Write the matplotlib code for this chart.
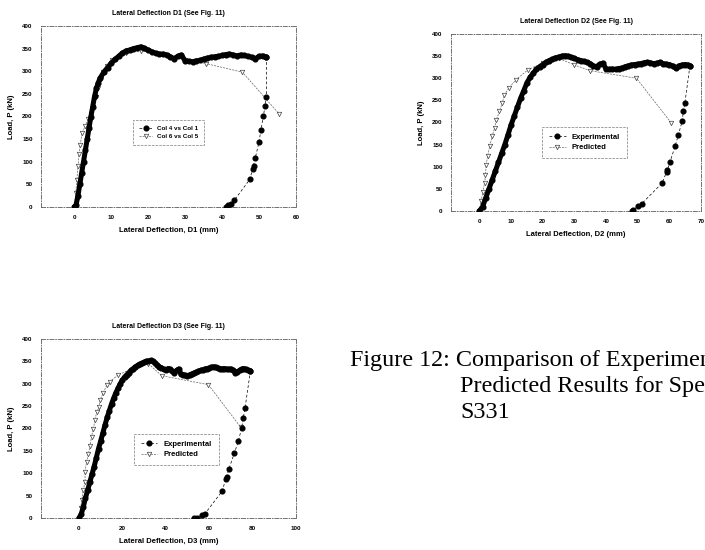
import matplotlib
matplotlib.use("Agg")
import matplotlib.pyplot as plt

plt.rcParams['font.family'] = ['Liberation Sans', 'DejaVu Sans']

# ---- panel D1 ----
d1_load_x = [0, 0.5, 1, 1.5, 2, 2.5, 3, 3.5, 4, 4.5, 5, 5.5, 6, 6.5, 7, 8, 9, 10, 11, 12,
             13, 14, 15, 16, 17, 18, 19, 20, 21, 22, 23, 24, 25, 26, 27, 28, 29,
             30, 31, 32, 33, 34, 35, 36, 37, 38, 39, 40, 41, 42, 43, 44, 45, 46, 47,
             48, 49, 50, 51, 52]
d1_load_y = [0, 5, 25, 50, 75, 100, 125, 150, 175, 200, 222, 245, 262, 275, 285, 298, 308, 318, 326, 333,
             340, 345, 347, 350, 352, 354, 351, 347, 343, 340, 338, 338, 336, 332, 328, 333, 336,
             323, 322, 321, 323, 324, 327, 329, 331, 332, 333, 335, 337, 338, 336, 334, 336, 335, 333,
             331, 328, 333, 334, 331]
d1_unload_x = [52, 52.0, 51.6, 51.2, 50.5, 50.0, 49.0, 48.5, 48.3, 47.5, 43.3, 42.4, 41.5, 41.0]
d1_unload_y = [331, 244, 223, 202, 170, 144, 109, 91, 85, 61, 15, 6, 4, 0]
d1_pred_x = [0, 0.4, 0.7, 1.0, 1.3, 1.6, 2.1, 3.0, 3.8, 4.5, 5.2, 5.8, 6.5, 7.2, 7.8, 8.8, 10.2,
             14, 18, 25, 30, 35.6, 45.5, 55.5]
d1_pred_y = [0, 30, 60, 90, 118, 137, 163, 180, 195, 205, 222, 242, 262, 282, 298, 312, 325,
             340, 345, 335, 325, 317, 298, 205]

# ---- panel D2 ----
d2_load_x = [0, 1, 2, 3, 4, 5, 6, 7, 8, 9, 10, 11, 12, 13, 14, 15, 16, 17, 18, 19, 20,
             21, 22, 23, 24, 25, 26, 27, 28, 29, 30, 31, 32, 33, 34, 35, 36, 37, 38, 39,
             40, 41, 42, 43, 44, 45, 46, 47, 48, 49, 50, 51, 52, 53, 54, 55, 56, 57, 58,
             59, 60, 61, 62, 63, 64, 65, 66, 66.5]
d2_load_y = [0, 10, 30, 50, 70, 90, 110, 130, 150, 172, 195, 215, 235, 255, 272, 290, 302, 312, 320, 326, 331,
             336, 340, 343, 346, 348, 350, 351, 350, 347, 345, 342, 340, 338, 336, 333, 328, 326, 332, 334,
             321, 320, 321, 320, 322, 323, 326, 328, 330, 331, 332, 333, 335, 336, 335, 333, 334, 336, 333,
             332, 331, 328, 323, 328, 330, 331, 330, 328]
d2_unload_x = [66.5, 64.9, 64.4, 64.1, 62.8, 61.8, 60.2, 59.4, 59.1, 57.7, 51.2, 50.2, 48.6, 48.2]
d2_unload_y = [328, 244, 225, 204, 171, 146, 111, 93, 88, 63, 16, 11, 3, 1]
d2_pred_x = [0, 0.5, 1.1, 1.6, 1.9, 2.1, 2.6, 3.2, 4.0, 4.8, 5.3, 6.3, 7.2, 7.9, 9.3, 11.6, 15.3,
             20, 25, 30, 35, 49.6, 60.5]
d2_pred_y = [0, 22, 44, 63, 82, 105, 124, 146, 169, 188, 206, 225, 244, 263, 278, 297, 319,
             335, 345, 330, 317, 300, 200]

# ---- panel D3 ----
d3_load_x = [0, 1, 2, 3, 4, 5, 6, 7, 8, 9, 10, 11, 12, 13, 14, 15, 16, 17, 18, 19, 20,
             21, 22, 23, 24, 25, 26, 27, 28, 29, 30, 31, 32, 33, 34, 35, 36, 37, 38, 39,
             40, 41, 42, 43, 44, 45, 46,
             47, 48, 49, 50, 51, 52, 53, 54, 55, 56, 57, 58, 59, 60, 61, 62, 63, 64, 65,
             66, 67, 68, 69, 70, 71, 72, 73, 74, 75, 76, 77, 78, 79]
d3_load_y = [0, 8, 25, 45, 62, 80, 98, 115, 135, 155, 172, 190, 208, 225, 240, 255, 268, 280, 290, 300, 308,
             315, 320, 325, 330, 334, 338, 341, 344, 346, 348, 350, 351, 352, 350, 347, 342, 338, 336, 332,
             330, 334, 333, 328, 325, 330, 333,
             321, 320, 319, 318, 320, 322, 324, 326, 328, 330, 331, 333, 334, 335, 337, 338, 337, 335, 334,
             333, 334, 333, 332, 333, 330, 325, 327, 330, 333, 334, 332, 330, 329]
d3_unload_x = [79, 76.5, 75.7, 75.0, 73.4, 71.6, 69.1, 68.0, 67.6, 66.0, 58.1, 56.5, 54.2, 53.2]
d3_unload_y = [329, 245, 224, 202, 171, 145, 110, 92, 87, 60, 10, 7, 1, 0]
d3_pred_x = [0, 0.8, 1.2, 2.0, 2.8, 2.8, 3.5, 4.3, 5.1, 5.8, 6.6, 7.4, 8.1, 9.4, 9.7, 11.2, 12.8,
             14.3, 18.1, 26.6, 32, 38.1, 59.6, 74.5]
d3_pred_y = [0, 22, 40, 63, 81, 103, 126, 142, 162, 182, 200, 219, 236, 249, 264, 279, 297,
             305, 320, 338, 345, 318, 298, 203]

caption = ["Figure 12: Comparison of Experimental and",
           "Predicted Results for Specimen",
           "S331"]

panels = [
    dict(rect=[41 / 705, 343 / 550, 255 / 705, 181 / 550], xlim=(-9, 60), xticks=range(0, 61, 10),
         title="Lateral Deflection D1 (See Fig. 11)", xlabel="Lateral Deflection, D1 (mm)",
         lx=d1_load_x, ly=d1_load_y, ux=d1_unload_x, uy=d1_unload_y, px=d1_pred_x, py=d1_pred_y,
         labels=["Col 4 vs Col 1", "Col 6 vs Col 5"], leg=(0.349, 0.497), lfs=4.5),
    dict(rect=[451 / 705, 339 / 550, 250 / 705, 177 / 550], xlim=(-9, 70), xticks=range(0, 71, 10),
         title="Lateral Deflection D2 (See Fig. 11)", xlabel="Lateral Deflection, D2 (mm)",
         lx=d2_load_x, ly=d2_load_y, ux=d2_unload_x, uy=d2_unload_y, px=d2_pred_x, py=d2_pred_y,
         labels=["Experimental", "Predicted"], leg=(0.348, 0.497), lfs=5.5),
    dict(rect=[41 / 705, 32 / 550, 255 / 705, 179 / 550], xlim=(-17.5, 100), xticks=range(0, 101, 20),
         title="Lateral Deflection D3 (See Fig. 11)", xlabel="Lateral Deflection, D3 (mm)",
         lx=d3_load_x, ly=d3_load_y, ux=d3_unload_x, uy=d3_unload_y, px=d3_pred_x, py=d3_pred_y,
         labels=["Experimental", "Predicted"], leg=(0.349, 0.492), lfs=5.5),
]

fig = plt.figure(figsize=(7.05, 5.5), dpi=100)

for p in panels:
    ax = fig.add_axes(p["rect"])
    # dense test record: reads as a thick solid band
    ax.plot(p["lx"], p["ly"], linestyle="-", color="black", lw=3.6, solid_capstyle="round",
            marker="o", ms=3.4, mfc="black", mec="black", zorder=3)
    ax.plot(p["ux"], p["uy"], linestyle="--", color="black", lw=0.5, dashes=(4, 3),
            marker="o", ms=3.4, mfc="black", mec="black", label=p["labels"][0], zorder=3)
    ax.plot(p["px"], p["py"], linestyle=(0, (3, 1.5)), color="0.4", lw=0.5,
            marker="v", ms=3.2, mfc="white", mec="0.25", mew=0.5, label=p["labels"][1], zorder=2)
    ax.set_xlim(*p["xlim"])
    ax.set_ylim(0, 400)
    ax.set_xticks(list(p["xticks"]))
    ax.set_yticks(range(0, 401, 50))
    ax.tick_params(length=0, pad=6, labelsize=4.5)
    for lab in ax.get_xticklabels() + ax.get_yticklabels():
        lab.set_fontweight("bold")
    for s in ax.spines.values():
        s.set_linestyle((0, (5, 2, 1, 2)))
        s.set_linewidth(0.6)
        s.set_color("0.35")
    ax.set_title(p["title"], fontsize=5, fontweight="bold", pad=8)
    ax.set_xlabel(p["xlabel"], fontsize=5.5, fontweight="bold", labelpad=5)
    ax.set_ylabel("Load, P (kN)", fontsize=5.5, fontweight="bold", labelpad=5)
    leg = ax.legend(loc="upper left", bbox_to_anchor=p["leg"], fontsize=p["lfs"],
                    fancybox=False, edgecolor="0.35", handlelength=2.2,
                    borderpad=0.9, labelspacing=0.4)
    leg.get_frame().set_linestyle("--")
    leg.get_frame().set_linewidth(0.5)
    for t in leg.get_texts():
        t.set_fontweight("bold")

# caption runs off the right edge of the page, as in the scan
cap_font = dict(family=["Liberation Serif", "DejaVu Serif"], fontsize=17.4, va="baseline")
fig.text(350 / 705, 1 - 366 / 550, caption[0], **cap_font)
fig.text(460 / 705, 1 - 392 / 550, caption[1], **cap_font)
fig.text(460 / 705, 1 - 418 / 550, caption[2], **cap_font)

fig.savefig("out.png", dpi=100)
